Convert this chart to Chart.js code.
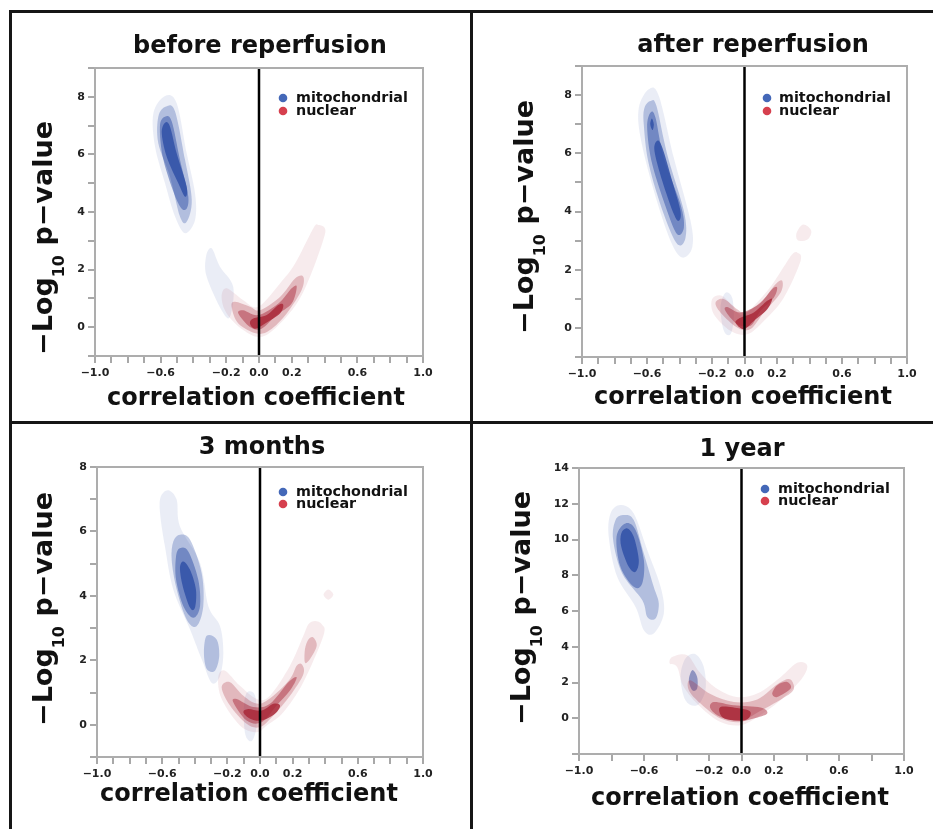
<!DOCTYPE html>
<html>
<head>
<meta charset="utf-8">
<script src="https://cdn.jsdelivr.net/npm/chart.js@4.4.1/dist/chart.umd.min.js"></script>
<style>
  body { margin: 0; background: #fff; }
  #wrap { position: relative; width: 933px; height: 829px; overflow: hidden; }
  canvas { position: absolute; }
  .rule { position: absolute; background: #161616; }
</style>
</head>
<body>
<div id="wrap">
  <div class="rule" style="left:9px;top:10px;width:924px;height:3px"></div>
  <div class="rule" style="left:9px;top:10px;width:3px;height:819px"></div>
  <div class="rule" style="left:470px;top:10px;width:3px;height:819px"></div>
  <div class="rule" style="left:9px;top:421px;width:924px;height:3px"></div>
  <canvas id="c1" width="458" height="408" style="left:12px;top:13px"></canvas>
  <canvas id="c2" width="460" height="408" style="left:473px;top:13px"></canvas>
  <canvas id="c3" width="458" height="405" style="left:12px;top:424px"></canvas>
  <canvas id="c4" width="460" height="405" style="left:473px;top:424px"></canvas>
</div>
<script>
// text
const panelTitles = ["before reperfusion", "after reperfusion", "3 months", "1 year"];
const seriesNames = ["mitochondrial", "nuclear"];
const xAxisLabel = "correlation coefficient";
const yAxisLabel = ["\u2212Log", "10", " p\u2212value"];
const xTickLabels = [-1.0, -0.6, -0.2, 0.0, 0.2, 0.6, 1.0];
const yRanges = [[-1, 9], [-1, 9], [-1, 8], [-2, 14]];

// density contours: [level 1 (outer) .. level 4 (core)], each a list of closed outlines [corr, -log10 p]
const beforeMito = [
  [[[-0.573,8.03],[-0.502,7.78],[-0.441,6.04],[-0.39,4.65],[-0.39,3.72],[-0.451,3.26],[-0.512,3.84],[-0.573,5.0],[-0.634,6.27],[-0.644,7.43]],
   [[-0.289,2.74],[-0.238,2.1],[-0.157,1.4],[-0.177,0.36],[-0.228,0.59],[-0.319,1.75],[-0.323,2.45]]],
  [[[-0.567,7.66],[-0.512,7.49],[-0.451,5.81],[-0.41,4.42],[-0.441,3.66],[-0.482,3.84],[-0.543,5.23],[-0.614,6.39],[-0.614,7.31]]],
  [[[-0.573,7.31],[-0.532,7.14],[-0.482,5.81],[-0.431,4.53],[-0.451,4.07],[-0.502,4.42],[-0.583,5.81],[-0.604,6.97]]],
  [[[-0.573,7.1],[-0.543,6.97],[-0.502,6.04],[-0.441,4.88],[-0.451,4.53],[-0.492,5.0],[-0.563,5.92],[-0.593,6.74]]]
];
const beforeNuc = [
  [[[0.402,3.43],[0.392,3.03],[0.311,1.75],[0.23,0.82],[0.108,0.01],[0.006,-0.34],[-0.096,-0.1],[-0.197,0.48],[-0.228,1.05],[-0.197,1.35],[-0.096,0.94],[-0.004,0.71],[0.128,1.52],[0.22,2.21],[0.331,3.43],[0.362,3.55]]],
  [[[0.27,1.75],[0.26,1.29],[0.169,0.48],[0.067,-0.1],[-0.014,-0.22],[-0.126,0.13],[-0.167,0.71],[-0.146,0.88],[-0.055,0.71],[0.006,0.59],[0.128,1.05],[0.22,1.69]]],
  [[[0.23,1.4],[0.199,0.82],[0.108,0.42],[0.016,-0.05],[-0.055,0.01],[-0.126,0.48],[-0.096,0.59],[-0.004,0.42],[0.118,0.82],[0.199,1.35]]],
  [[[0.148,0.77],[0.128,0.48],[0.037,0.13],[-0.024,-0.05],[-0.055,0.13],[-0.035,0.3],[0.047,0.42],[0.118,0.77]]]
];

const afterMito = [
  [[[-0.589,8.2],[-0.527,7.97],[-0.435,5.85],[-0.332,3.68],[-0.322,2.76],[-0.383,2.42],[-0.455,2.99],[-0.558,4.71],[-0.64,6.54],[-0.65,7.57]],
   [[-0.117,1.21],[-0.076,1.04],[-0.066,0.35],[-0.086,-0.22],[-0.127,-0.1],[-0.148,0.7]]],
  [[[-0.578,7.8],[-0.542,7.63],[-0.476,5.97],[-0.373,4.02],[-0.363,3.1],[-0.414,2.88],[-0.497,3.91],[-0.589,5.63],[-0.62,7.0],[-0.615,7.57]]],
  [[[-0.578,7.4],[-0.548,7.23],[-0.497,5.85],[-0.394,4.25],[-0.373,3.45],[-0.414,3.22],[-0.476,4.02],[-0.568,5.63],[-0.599,6.88]]],
  [[[-0.537,6.43],[-0.506,6.2],[-0.445,5.05],[-0.394,4.02],[-0.404,3.68],[-0.435,3.91],[-0.506,5.05],[-0.554,6.08]],
   [[-0.57,7.2],[-0.558,7.0],[-0.566,6.8],[-0.58,7.0]]]
];
const afterNuc = [
  [[[0.324,2.59],[0.345,2.3],[0.242,1.04],[0.119,0.24],[0.017,-0.22],[-0.086,-0.1],[-0.189,0.47],[-0.199,0.99],[-0.137,1.1],[-0.066,0.7],[-0.004,0.47],[0.14,1.27],[0.252,2.19],[0.294,2.53]],
   [[0.36,3.55],[0.41,3.35],[0.39,3.05],[0.33,3.0],[0.32,3.25]]],
  [[[0.232,1.62],[0.222,1.21],[0.119,0.53],[0.037,-0.04],[-0.045,0.01],[-0.148,0.53],[-0.178,0.87],[-0.127,0.99],[-0.045,0.64],[0.006,0.53],[0.109,0.93],[0.191,1.5]]],
  [[[0.201,1.38],[0.18,1.04],[0.098,0.58],[0.037,0.07],[-0.045,0.13],[-0.117,0.58],[-0.107,0.72],[-0.025,0.53],[0.088,0.81],[0.17,1.33]]],
  [[[0.17,0.99],[0.14,0.64],[0.057,0.24],[-0.004,-0.04],[-0.055,0.18],[-0.025,0.35],[0.057,0.53],[0.14,0.93]]]
];

const months3Mito = [
  [[[-0.562,7.28],[-0.511,6.98],[-0.491,6.15],[-0.368,5.02],[-0.317,3.68],[-0.245,3.06],[-0.225,2.24],[-0.245,1.52],[-0.296,1.3],[-0.358,2.04],[-0.429,2.96],[-0.532,4.2],[-0.583,5.53],[-0.613,6.56],[-0.609,7.08]],
   [[-0.08,1.0],[-0.03,0.9],[-0.02,0.0],[-0.05,-0.5],[-0.09,-0.3],[-0.1,0.5]]],
  [[[-0.491,5.9],[-0.429,5.74],[-0.358,4.71],[-0.348,3.68],[-0.389,3.06],[-0.45,3.27],[-0.511,4.2],[-0.542,5.12],[-0.532,5.69]],
   [[-0.327,2.76],[-0.266,2.65],[-0.25,2.14],[-0.276,1.68],[-0.327,1.73],[-0.344,2.24]]],
  [[[-0.491,5.48],[-0.44,5.38],[-0.379,4.51],[-0.368,3.68],[-0.409,3.32],[-0.47,3.68],[-0.515,4.51],[-0.515,5.23]]],
  [[[-0.47,5.07],[-0.429,4.81],[-0.393,4.2],[-0.399,3.63],[-0.429,3.63],[-0.474,4.3],[-0.491,4.87]]]
];
const months3Nuc = [
  [[[0.337,3.22],[0.379,3.12],[0.389,2.76],[0.266,1.32],[0.143,0.39],[0.041,-0.02],[-0.02,-0.23],[-0.123,-0.02],[-0.235,0.8],[-0.256,1.47],[-0.215,1.68],[-0.123,1.21],[-0.02,0.8],[0.061,0.9],[0.184,1.83],[0.266,2.76],[0.297,3.12]],
   [[0.419,4.2],[0.45,4.04],[0.419,3.88],[0.39,4.04]]],
  [[[0.327,2.71],[0.348,2.45],[0.307,2.04],[0.276,1.93],[0.276,2.35],[0.297,2.65]],
   [[0.256,1.88],[0.266,1.57],[0.184,0.9],[0.082,0.29],[0,-0.07],[-0.082,0.03],[-0.184,0.6],[-0.235,1.16],[-0.184,1.32],[-0.102,0.9],[-0.01,0.65],[0.082,0.9],[0.184,1.42],[0.225,1.83]]],
  [[[0.225,1.47],[0.184,1.06],[0.102,0.6],[0.01,0.08],[-0.082,0.13],[-0.164,0.7],[-0.143,0.8],[-0.041,0.55],[0.061,0.65],[0.174,1.32]]],
  [[[0.123,0.6],[0.092,0.34],[0.01,0.13],[-0.061,0.19],[-0.102,0.39],[-0.072,0.49],[0.01,0.44],[0.082,0.65]]]
];

const year1Mito = [
  [[[-0.745,11.93],[-0.663,11.46],[-0.58,9.41],[-0.498,7.35],[-0.478,5.86],[-0.54,4.74],[-0.601,4.93],[-0.652,6.23],[-0.765,7.91],[-0.817,10.15],[-0.806,11.46]],
   [[-0.283,3.58],[-0.232,2.87],[-0.222,1.57],[-0.273,0.73],[-0.345,1.01],[-0.375,2.31],[-0.345,3.34]]],
  [[[-0.724,11.37],[-0.663,11.09],[-0.601,9.22],[-0.54,7.35],[-0.509,6.42],[-0.529,5.58],[-0.58,5.67],[-0.611,6.61],[-0.734,8.1],[-0.79,9.97],[-0.775,11.09]]],
  [[[-0.714,10.9],[-0.652,10.53],[-0.601,8.85],[-0.611,7.54],[-0.663,7.35],[-0.745,8.47],[-0.769,10.15]],
   [[-0.303,2.69],[-0.273,2.31],[-0.273,1.66],[-0.303,1.57],[-0.324,2.13]]],
  [[[-0.703,10.62],[-0.663,10.15],[-0.632,8.85],[-0.652,8.19],[-0.694,8.47],[-0.74,9.59],[-0.74,10.34]]]
];
const year1Nuc = [
  [[[-0.426,3.43],[-0.334,3.53],[-0.26,2.6],[-0.16,1.7],[-0.03,1.19],[0.1,1.4],[0.24,2.3],[0.343,3.1],[0.404,2.95],[0.37,2.2],[0.24,1.01],[0.097,0.07],[-0.006,-0.39],[-0.129,-0.21],[-0.252,0.63],[-0.355,1.75],[-0.396,2.87],[-0.441,3.06]]],
  [[[-0.314,2.13],[-0.191,1.35],[-0.047,0.91],[0.097,1.05],[0.22,1.9],[0.29,2.2],[0.32,1.9],[0.31,1.47],[0.199,0.82],[0.076,0.2],[-0.006,-0.21],[-0.129,-0.02],[-0.252,0.82],[-0.324,1.57]]],
  [[[-0.17,0.91],[-0.047,0.73],[0.117,0.6],[0.158,0.26],[0.076,-0.02],[-0.006,-0.15],[-0.129,0.07],[-0.191,0.54]],
   [[0.281,2.03],[0.302,1.66],[0.22,1.19],[0.189,1.38],[0.22,1.85]]],
  [[[-0.129,0.63],[-0.006,0.54],[0.055,0.35],[0.035,-0.05],[-0.047,-0.12],[-0.119,0.07]]]
];

// colours
const blueRGB = "50,82,168", redRGB = "168,38,54";
const blueAlpha = [0.1, 0.3, 0.5, 0.86];
const redAlpha = [0.09, 0.26, 0.46, 0.82];
const legendColors = ["#4468b8", "#d6404e"];
const FONT = '"DejaVu Sans", Verdana, sans-serif';

// layout per canvas (pixels)
const panels = [
  { id: "c1", title: 0, mito: beforeMito, nuc: beforeNuc, xStep: 0.1, yStep: 1,
    area: [83, 55, 411, 343], titleAt: [248, 40], xLabAt: [244, 392], yLabAt: [40, 225], legend: [271, 284, 89, 102] },
  { id: "c2", title: 1, mito: afterMito, nuc: afterNuc, xStep: 0.1, yStep: 1,
    area: [109, 53, 434, 344], titleAt: [280, 39], xLabAt: [270, 391], yLabAt: [60, 204], legend: [294, 306, 89, 102] },
  { id: "c3", title: 2, mito: months3Mito, nuc: months3Nuc, xStep: 0.1, yStep: 1,
    area: [85, 43, 411, 333], titleAt: [250, 30], xLabAt: [237, 377], yLabAt: [40, 185], legend: [271, 284, 72, 84] },
  { id: "c4", title: 3, mito: year1Mito, nuc: year1Nuc, xStep: 0.2, yStep: 2,
    area: [106, 44, 431, 330], titleAt: [269, 32], xLabAt: [267, 381], yLabAt: [57, 184], legend: [292, 305, 69, 81] }
];

function smoothClosed(ctx, pts) {
  const n = pts.length;
  ctx.beginPath();
  ctx.moveTo(pts[0][0], pts[0][1]);
  for (let i = 0; i < n; i++) {
    const p0 = pts[(i - 1 + n) % n], p1 = pts[i], p2 = pts[(i + 1) % n], p3 = pts[(i + 2) % n];
    ctx.bezierCurveTo(
      p1[0] + (p2[0] - p0[0]) / 6, p1[1] + (p2[1] - p0[1]) / 6,
      p2[0] - (p3[0] - p1[0]) / 6, p2[1] - (p3[1] - p1[1]) / 6,
      p2[0], p2[1]);
  }
  ctx.closePath();
}

const contourPlugin = {
  id: "contours",
  beforeDatasetsDraw(chart) {
    const ctx = chart.ctx, a = chart.chartArea;
    ctx.save();
    ctx.beginPath();
    ctx.rect(a.left, a.top, a.right - a.left, a.bottom - a.top);
    ctx.clip();
    chart.data.datasets.forEach((ds, i) => {
      if (!ds.contour) return;
      const pts = chart.getDatasetMeta(i).data.map((el) => [el.x, el.y]);
      ctx.fillStyle = ds.backgroundColor;
      smoothClosed(ctx, pts);
      ctx.fill();
    });
    ctx.restore();
  }
};

const decoPlugin = {
  id: "deco",
  afterDraw(chart) {
    const p = chart.options.plugins.deco.panel;
    const ctx = chart.ctx, a = chart.chartArea;
    ctx.save();
    // frame
    ctx.strokeStyle = "#adadad";
    ctx.lineWidth = 2;
    ctx.strokeRect(a.left, a.top, a.right - a.left, a.bottom - a.top);

    ctx.fillStyle = "#111";
    ctx.textBaseline = "alphabetic";
    // title
    ctx.font = "bold 24px " + FONT;
    ctx.textAlign = "center";
    ctx.fillText(panelTitles[p.title], p.titleAt[0], p.titleAt[1]);
    // x label
    ctx.fillText(xAxisLabel, p.xLabAt[0], p.xLabAt[1]);

    // y label with subscript
    const big = "bold 27px " + FONT, small = "bold 16px " + FONT;
    ctx.font = big;
    const w0 = ctx.measureText(yAxisLabel[0]).width;
    const w2 = ctx.measureText(yAxisLabel[2]).width;
    ctx.font = small;
    const w1 = ctx.measureText(yAxisLabel[1]).width;
    const total = w0 + w1 + w2;
    ctx.save();
    ctx.translate(p.yLabAt[0], p.yLabAt[1]);
    ctx.rotate(-Math.PI / 2);
    ctx.textAlign = "left";
    let x = -total / 2;
    ctx.font = big; ctx.fillText(yAxisLabel[0], x, 0); x += w0;
    ctx.font = small; ctx.fillText(yAxisLabel[1], x, 12); x += w1;
    ctx.font = big; ctx.fillText(yAxisLabel[2], x, 0);
    ctx.restore();

    // legend
    const [dx, tx, b1, b2] = p.legend;
    ctx.font = "bold 14.3px " + FONT;
    ctx.textAlign = "left";
    [b1, b2].forEach((b, i) => {
      ctx.fillStyle = legendColors[i];
      ctx.beginPath();
      ctx.arc(dx, b - 4, 4.3, 0, Math.PI * 2);
      ctx.fill();
      ctx.fillStyle = "#111";
      ctx.fillText(seriesNames[i], tx, b);
    });
    ctx.restore();
  }
};

function fmtTick(v) {
  return v.toFixed(1).replace("-", "\u2212");
}

panels.forEach((p, pi) => {
  const canvas = document.getElementById(p.id);
  const W = canvas.width, H = canvas.height;
  const [left, top, right, bottom] = p.area;
  const [yMin, yMax] = yRanges[pi];
  const datasets = [];
  [[p.mito, blueRGB, blueAlpha], [p.nuc, redRGB, redAlpha]].forEach(([levels, rgb, alpha]) => {
    levels.forEach((polys, li) => {
      polys.forEach((poly) => {
        datasets.push({
          data: poly,
          contour: true,
          backgroundColor: "rgba(" + rgb + "," + alpha[li] + ")",
          pointRadius: 0,
          showLine: false
        });
      });
    });
  });
  // zero correlation line
  datasets.push({
    data: [[0, yMin], [0, yMax]],
    showLine: true,
    borderColor: "#000",
    borderWidth: 2.5,
    pointRadius: 0
  });

  new Chart(canvas, {
    type: "scatter",
    data: { datasets: datasets },
    plugins: [contourPlugin, decoPlugin],
    options: {
      responsive: false,
      animation: false,
      events: [],
      layout: { padding: { top: top, left: 0, right: W - right, bottom: 0 } },
      plugins: {
        legend: { display: false },
        tooltip: { enabled: false },
        deco: { panel: p }
      },
      scales: {
        x: {
          type: "linear",
          min: -1,
          max: 1,
          afterFit: (s) => { s.height = H - bottom; },
          border: { display: false },
          grid: { drawOnChartArea: false, drawTicks: true, tickLength: 7, color: "#a8a8a8", lineWidth: 2 },
          ticks: {
            stepSize: p.xStep,
            autoSkip: false,
            maxRotation: 0,
            padding: 4,
            color: "#222",
            font: { family: FONT, size: 11, weight: "bold" },
            callback: (v) => (xTickLabels.some((t) => Math.abs(t - v) < 1e-6) ? fmtTick(v) : "")
          }
        },
        y: {
          type: "linear",
          min: yMin,
          max: yMax,
          afterFit: (s) => { s.width = left; },
          border: { display: false },
          grid: { drawOnChartArea: false, drawTicks: true, tickLength: 7, color: "#a8a8a8", lineWidth: 2 },
          ticks: {
            stepSize: p.yStep,
            autoSkip: false,
            padding: 3,
            color: "#222",
            font: { family: FONT, size: 11, weight: "bold" },
            callback: (v) => (v >= 0 && Math.abs(v % 2) < 1e-6 ? String(v) : "")
          }
        }
      }
    }
  });
});
</script>
</body>
</html>
